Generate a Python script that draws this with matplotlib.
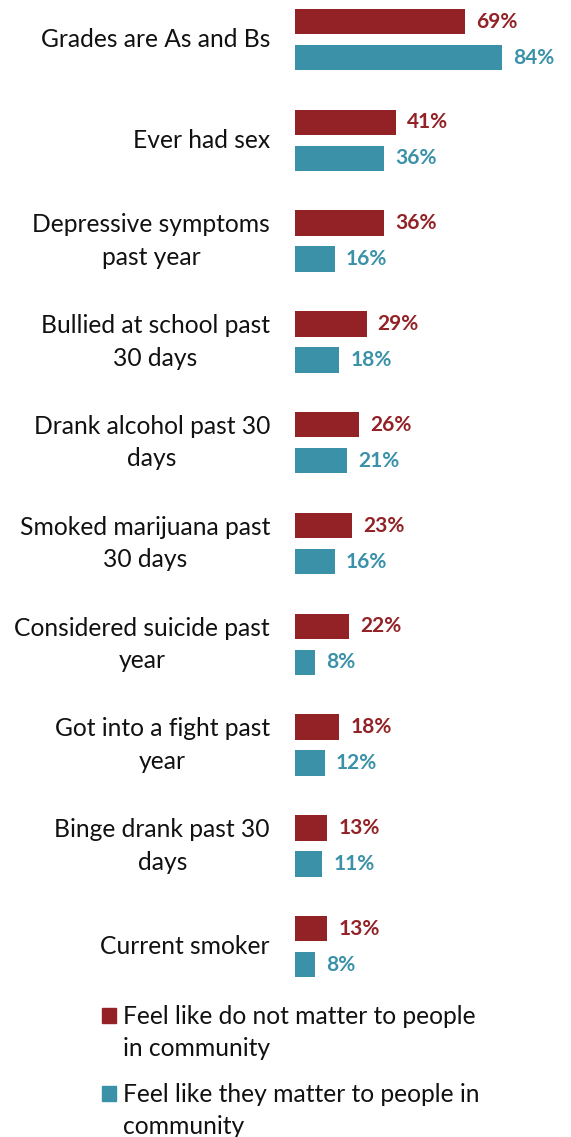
import matplotlib
matplotlib.use("Agg")
import matplotlib.pyplot as plt
import numpy as np
from matplotlib.patches import Rectangle

plt.rcParams["font.family"] = ["Lato", "DejaVu Sans"]

categories = [
    "Grades are As and Bs",
    "Ever had sex",
    "Depressive symptoms\npast year",
    "Bullied at school past\n30 days",
    "Drank alcohol past 30\ndays",
    "Smoked marijuana past\n30 days",
    "Considered suicide past\nyear",
    "Got into a fight past\nyear",
    "Binge drank past 30\ndays",
    "Current smoker",
]
not_matter = [69, 41, 36, 29, 26, 23, 22, 18, 13, 13]
matter = [84, 36, 16, 18, 21, 16, 8, 12, 11, 8]
series_names = [
    ["Feel like do not matter to people", "in community"],
    ["Feel like they matter to people in", "community"],
]

RED = "#922226"
TEAL = "#3A91A8"
LABEL_SIZE = 17.7

W, H = 571, 1137
fig = plt.figure(figsize=(W / 100, H / 100), dpi=100)

# Axes geometry (pixels)
px_left, px_right = 295, 560
group_pitch = 100.8
first_center = 39.5
top_px = 0
bottom_px = 990
ax = fig.add_axes([px_left / W, 1 - bottom_px / H, (px_right - px_left) / W, (bottom_px - top_px) / H])

px_per_pct = 2.47
ax.set_xlim(0, (px_right - px_left) / px_per_pct)
ax.set_ylim((bottom_px - first_center) / group_pitch, (top_px - first_center) / group_pitch)

y = np.arange(len(categories))
off = 18 / group_pitch
bh = 25.3 / group_pitch

bars_r = ax.barh(y - off, not_matter, height=bh, color=RED)
bars_t = ax.barh(y + off, matter, height=bh, color=TEAL)

for bars, vals, c in [(bars_r, not_matter, RED), (bars_t, matter, TEAL)]:
    for b, v in zip(bars, vals):
        ax.annotate(f"{v}%", (v, b.get_y() + b.get_height() / 2),
                    xytext=(8, 0), textcoords="offset points",
                    ha="left", va="center", color=c,
                    fontsize=15, fontweight="bold")

for yi, lab in zip(y, categories):
    ax.annotate(lab, (0, yi), xytext=(-25 * 72 / 100, 0), textcoords="offset points",
                ha="right", va="center", multialignment="center",
                fontsize=LABEL_SIZE, color="#111111", linespacing=1.5,
                annotation_clip=False)

ax.axis("off")

# Legend
legend_rows = [(1008, RED), (1086, TEAL)]
for (top, col), lines in zip(legend_rows, series_names):
    fig.patches.append(Rectangle((102 / W, 1 - (top + 15) / H), 14 / W, 15 / H,
                                 transform=fig.transFigure, color=col))
    for k, line in enumerate(lines):
        fig.text(123 / W, 1 - (top + 16 + 32 * k) / H, line, ha="left", va="baseline",
                 fontsize=LABEL_SIZE, color="#111111")

fig.savefig("out.png", dpi=100)
